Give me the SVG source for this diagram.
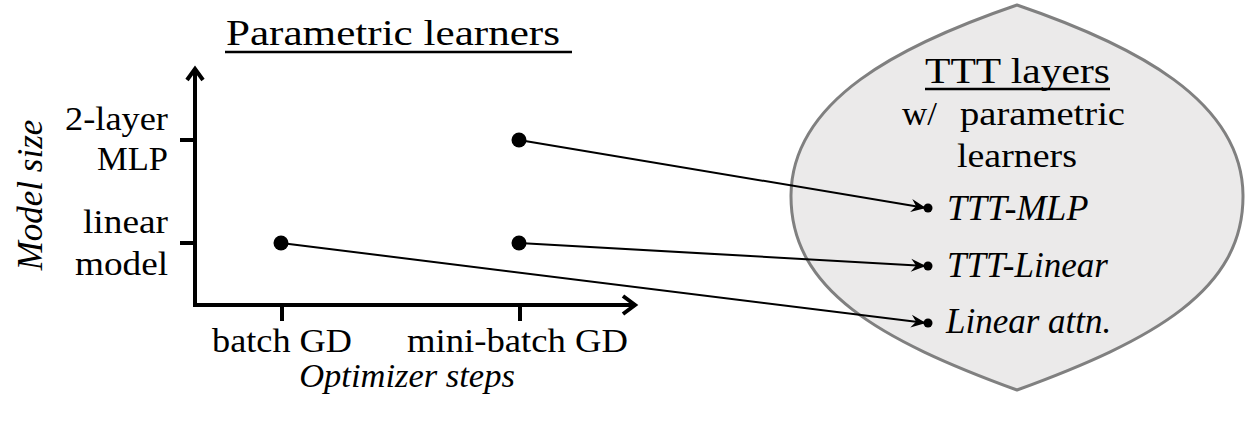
<svg xmlns="http://www.w3.org/2000/svg" width="1246" height="428" viewBox="0 0 1246 428">
<style>
.up{font-family:"Liberation Serif","Times New Roman",serif;fill:#000}
.it{font-family:"Liberation Serif","Times New Roman",serif;font-style:italic;fill:#000}
.ax{stroke:#000;stroke-width:4;fill:none}
.conn{stroke:#000;stroke-width:2;fill:none;marker-end:url(#ah)}
.ul{stroke:#000;stroke-width:2.5}
</style>
<defs>
<marker id="ah" markerUnits="userSpaceOnUse" markerWidth="20" markerHeight="16" viewBox="-16 -8 20 16" refX="0" refY="0" orient="auto">
<path d="M0,0 L-15,-6.5 L-10,0 L-15,6.5 Z" fill="#000"/>
</marker>
</defs>
<rect width="1246" height="428" fill="#fff"/>
<g id="ttt-region">
<path d="M1017,5 C900,45 792,100 791,195 C790,290 880,340 1017,390 C1154,340 1244,290 1243,195 C1242,100 1134,45 1017,5 Z" fill="#ebeaea" stroke="#808080" stroke-width="3"/>
<text class="up" x="925" y="83" font-size="36" textLength="185" lengthAdjust="spacingAndGlyphs">TTT layers</text>
<line class="ul" x1="925" y1="89" x2="1110" y2="89"/>
<text class="up" x="902" y="125" font-size="33" textLength="35" lengthAdjust="spacingAndGlyphs">w/</text>
<text class="up" x="960" y="125" font-size="33" textLength="165" lengthAdjust="spacingAndGlyphs">parametric</text>
<text class="up" x="957" y="167" font-size="33" textLength="120" lengthAdjust="spacingAndGlyphs">learners</text>
</g>
<g id="title">
<text class="up" x="226" y="45" font-size="35" textLength="334" lengthAdjust="spacingAndGlyphs">Parametric learners</text>
<line class="ul" x1="225" y1="52" x2="572" y2="52"/>
</g>
<g id="axes">
<line class="ax" x1="195" y1="69" x2="195" y2="305"/>
<line class="ax" x1="193" y1="305" x2="635" y2="305"/>
<polyline class="ax" points="187,80 195,69 203,80"/>
<polyline class="ax" points="623,296 635,305 623,314"/>
<line class="ax" x1="180" y1="140" x2="195" y2="140"/>
<line class="ax" x1="180" y1="243" x2="195" y2="243"/>
<line class="ax" x1="282" y1="305" x2="282" y2="321"/>
<line class="ax" x1="520" y1="305" x2="520" y2="321"/>
<text class="it" font-size="35" text-anchor="middle" transform="translate(42,195) rotate(-90)">Model size</text>
<text class="up" x="65" y="130" font-size="33" textLength="103" lengthAdjust="spacingAndGlyphs">2-layer</text>
<text class="up" x="97" y="170" font-size="33" textLength="71" lengthAdjust="spacingAndGlyphs">MLP</text>
<text class="up" x="83" y="233" font-size="33" textLength="85" lengthAdjust="spacingAndGlyphs">linear</text>
<text class="up" x="75" y="275" font-size="33" textLength="93" lengthAdjust="spacingAndGlyphs">model</text>
<text class="up" x="212" y="352" font-size="33" textLength="140" lengthAdjust="spacingAndGlyphs">batch GD</text>
<text class="up" x="407" y="352" font-size="33" textLength="221" lengthAdjust="spacingAndGlyphs">mini-batch GD</text>
<text class="it" x="407" y="387" font-size="34.5" text-anchor="middle">Optimizer steps</text>
</g>
<g id="node-mlp-minibatch"><circle cx="519" cy="140" r="7.5" fill="#000"/></g>
<g id="node-linear-batch"><circle cx="281" cy="243" r="7.5" fill="#000"/></g>
<g id="node-linear-minibatch"><circle cx="519" cy="243" r="7.5" fill="#000"/></g>
<g id="node-ttt-mlp"><circle cx="928" cy="208" r="4.5" fill="#000"/><text class="it" x="947" y="220" font-size="36">TTT-MLP</text></g>
<g id="node-ttt-linear"><circle cx="928" cy="266" r="4.5" fill="#000"/><text class="it" x="947" y="277" font-size="35">TTT-Linear</text></g>
<g id="node-linear-attn"><circle cx="928" cy="323" r="4.5" fill="#000"/><text class="it" x="946" y="333" font-size="35">Linear attn.</text></g>
<g id="connectors">
<line class="conn" x1="519" y1="140" x2="926" y2="208"/>
<line class="conn" x1="519" y1="243" x2="926" y2="266"/>
<line class="conn" x1="281" y1="243" x2="926" y2="323"/>
</g>
</svg>
